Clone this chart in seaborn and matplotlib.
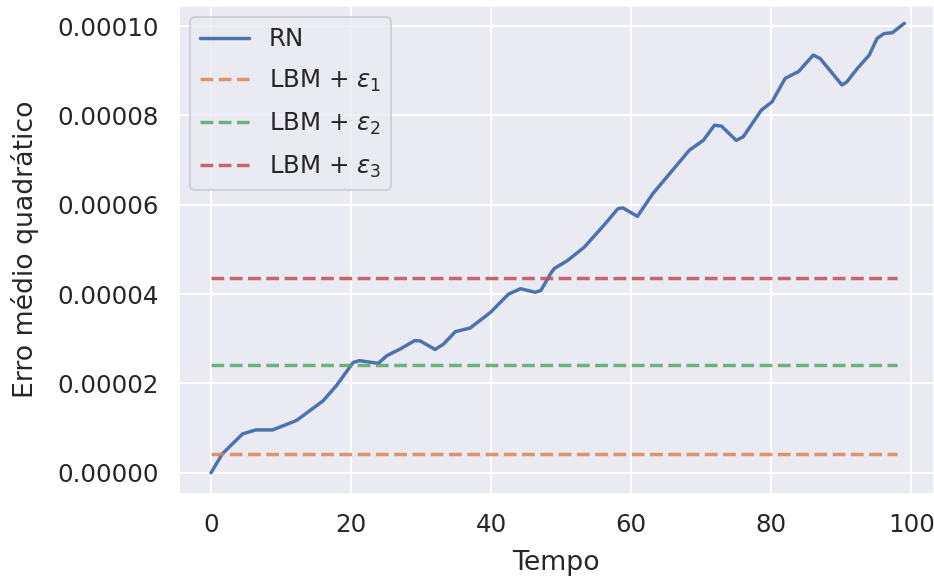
import numpy as np
import pandas as pd
import seaborn as sns
import matplotlib.pyplot as plt

# valores
tempo = [0, 1.6, 4.5, 6.4, 8.8, 12.2, 16, 17.9, 20.3, 21.2, 23.9, 25.1, 27, 29.1, 29.9,
         32, 33.2, 34.9, 37, 39.9, 42.5, 44.2, 46.3, 47.1, 48.5, 49, 50.9, 53.3, 56.1,
         58.1, 58.8, 60.9, 63.1, 66.7, 68.3, 70.3, 71.9, 72.9, 75, 76, 78.6, 80.1, 82,
         83.9, 86, 87, 90.1, 90.8, 92.3, 94, 95.1, 96.1, 97.3, 99]
erro_rn = [0, 0.42, 0.87, 0.96, 0.96, 1.17, 1.61, 1.95, 2.47, 2.51, 2.45, 2.62, 2.77, 2.96, 2.95,
           2.76, 2.88, 3.16, 3.24, 3.59, 4.0, 4.12, 4.04, 4.08, 4.46, 4.57, 4.75, 5.05, 5.54,
           5.91, 5.93, 5.74, 6.25, 6.92, 7.22, 7.44, 7.78, 7.76, 7.44, 7.52, 8.12, 8.30, 8.83,
           8.98, 9.35, 9.27, 8.68, 8.75, 9.05, 9.35, 9.72, 9.83, 9.85, 10.06]
erro_rn = [v * 1e-5 for v in erro_rn]

lbm_labels = [r'LBM + $\varepsilon_1$', r'LBM + $\varepsilon_2$', r'LBM + $\varepsilon_3$']
lbm_erros = [4.3e-6, 2.42e-5, 4.35e-5]
t_lbm = [0, 98]

sns.set_theme(style='darkgrid', context='notebook', font_scale=1.1)
pal = sns.color_palette('deep')

fig = plt.figure(figsize=(6.4, 4.0), dpi=146)
ax = fig.add_axes([178 / 934, 1 - 493 / 583, 1 - 178 / 934, (493 - 5) / 583])

df = pd.DataFrame({'Tempo': tempo, 'Erro': erro_rn})
sns.lineplot(data=df, x='Tempo', y='Erro', ax=ax, color=pal[0], label='RN', linewidth=1.7)

for i, (lab, val) in enumerate(zip(lbm_labels, lbm_erros)):
    sns.lineplot(x=t_lbm, y=[val, val], ax=ax, color=pal[i + 1], linestyle='--',
                 label=lab, alpha=0.85, linewidth=1.7)

ax.set_xlim(-4.7, 103.3)
ax.set_ylim(-4.71e-6, 1.047e-4)
ax.set_xticks([0, 20, 40, 60, 80, 100])
ax.set_yticks([0, 2e-5, 4e-5, 6e-5, 8e-5, 1e-4])
ax.set_yticklabels(['0.00000', '0.00002', '0.00004', '0.00006', '0.00008', '0.00010'])
ax.set_xlabel('Tempo', labelpad=6.5)
ax.set_ylabel('Erro médio quadrático', labelpad=9)
ax.legend(loc='upper left', labelspacing=0.68)

fig.savefig('out.png', dpi=146)
